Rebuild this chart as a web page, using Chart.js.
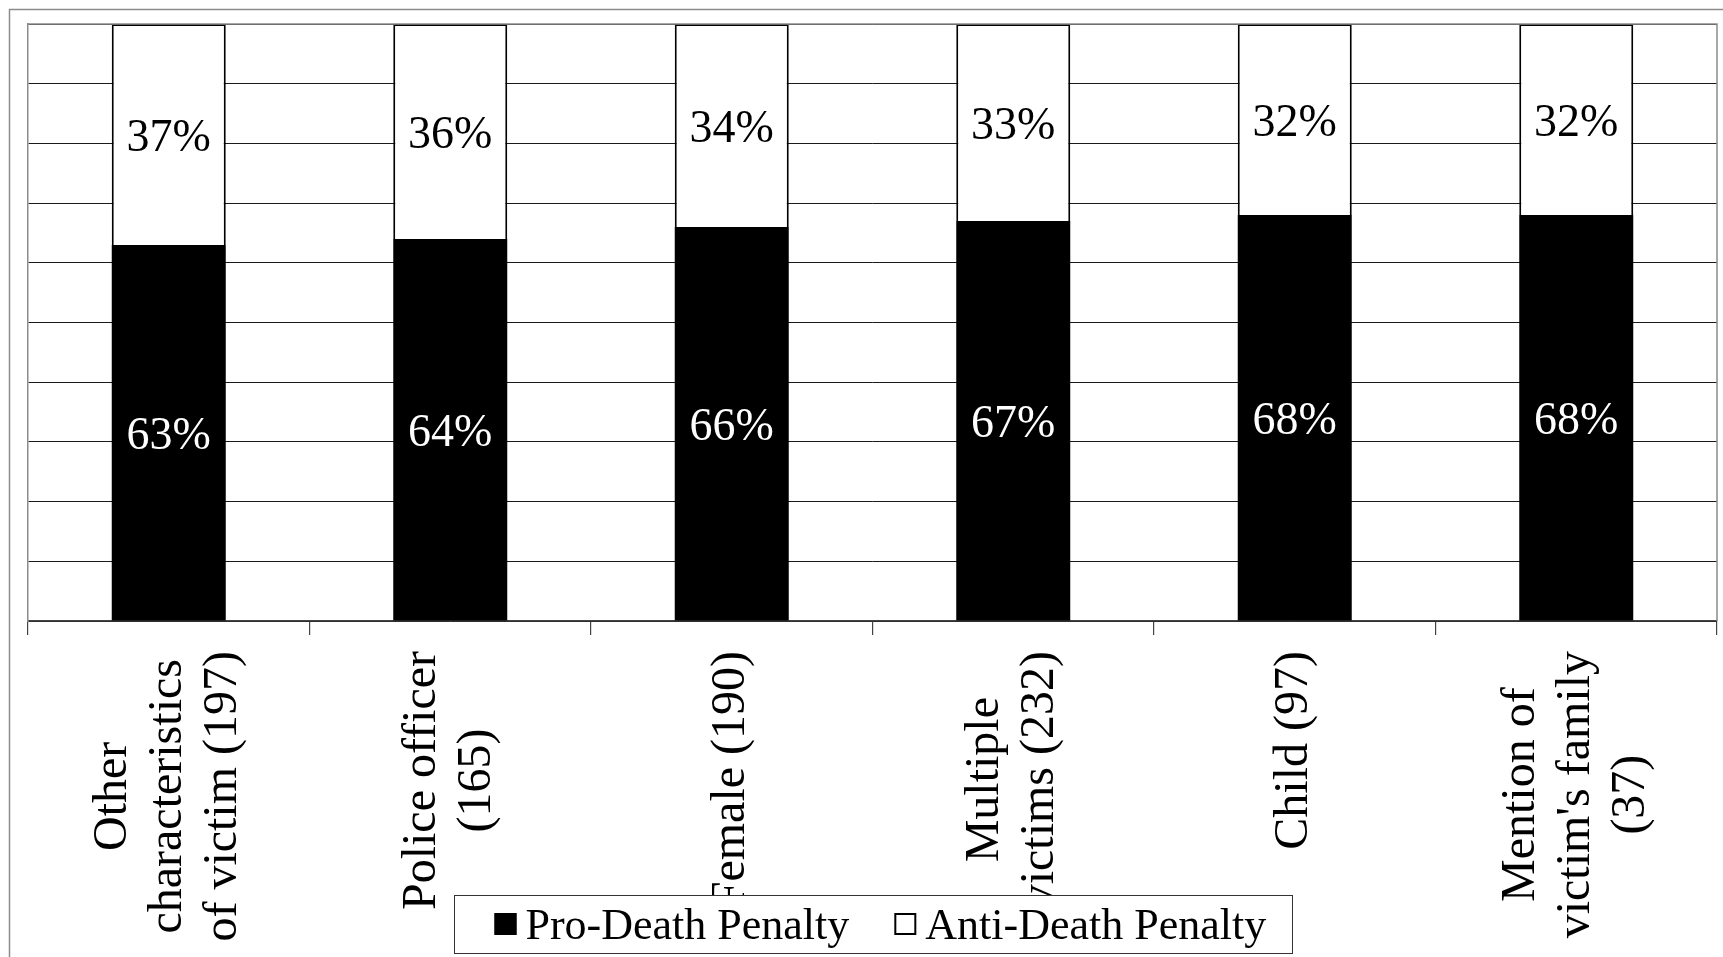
<!DOCTYPE html>
<html>
<head>
<meta charset="utf-8">
<script src="https://cdn.jsdelivr.net/npm/chart.js@4/dist/chart.umd.min.js"></script>
<style>
  html, body { margin: 0; padding: 0; background: #fff; overflow: hidden; }
  canvas { display: block; }
</style>
</head>
<body>
<canvas id="chart" width="1723" height="957"></canvas>
<script>
// Victim characteristics (number of cases in parentheses), one array per wrapped label
const categories = [
  ['Other', 'characteristics', 'of victim (197)'],
  ['Police officer', '(165)'],
  ['Female (190)'],
  ['Multiple', 'victims (232)'],
  ['Child (97)'],
  ['Mention of', "victim's family", '(37)']
];

// Share of cases (%) by stance
const proDeathPenalty  = [63, 64, 66, 67, 68, 68];
const antiDeathPenalty = [37, 36, 34, 33, 32, 32];

// Horizontal gridline steps on the 0–100% axis
const percentTicks = [0, 10, 20, 30, 40, 50, 60, 70, 80, 90, 100];

const SERIF = '"Liberation Serif", "Times New Roman", Times, serif';
const FRAME_GREY = '#8c8c8c';

// Outer frame and the top/right edges of the plot area
const framePlugin = {
  id: 'frame',
  beforeDraw(chart) {
    const { ctx, width, height } = chart;
    ctx.save();
    ctx.fillStyle = '#fff';
    ctx.fillRect(0, 0, width, height);
    ctx.strokeStyle = FRAME_GREY;
    ctx.lineWidth = 1.5;
    ctx.beginPath();
    ctx.moveTo(9.5, height);
    ctx.lineTo(9.5, 9.5);
    ctx.lineTo(width, 9.5);
    ctx.stroke();
    ctx.restore();
  },
  afterDatasetsDraw(chart) {
    const { ctx, chartArea: a } = chart;
    ctx.save();
    ctx.strokeStyle = FRAME_GREY;
    ctx.lineWidth = 1.5;
    ctx.beginPath();
    ctx.moveTo(a.left, a.top);
    ctx.lineTo(a.right, a.top);
    ctx.lineTo(a.right, a.bottom);
    ctx.stroke();
    ctx.restore();
  }
};

// Percentage printed in the middle of every bar segment
const valueLabelPlugin = {
  id: 'valueLabels',
  afterDatasetsDraw(chart) {
    const { ctx } = chart;
    ctx.save();
    ctx.font = `46px ${SERIF}`;
    ctx.textAlign = 'center';
    ctx.textBaseline = 'middle';
    chart.data.datasets.forEach((ds, di) => {
      const meta = chart.getDatasetMeta(di);
      meta.data.forEach((bar, i) => {
        const { x, y, base } = bar.getProps(['x', 'y', 'base'], true);
        ctx.fillStyle = ds.valueColor;
        ctx.fillText(ds.data[i] + '%', x, (y + base) / 2 + 4);
      });
    });
    ctx.restore();
  }
};

// Rotated, centre-aligned multi-line category labels under the axis
const categoryLabelPlugin = {
  id: 'categoryLabels',
  afterDraw(chart) {
    const { ctx, chartArea, scales: { x } } = chart;
    const lineHeight = 55;
    ctx.save();
    ctx.font = `48px ${SERIF}`;
    ctx.fillStyle = '#000';
    ctx.textAlign = 'center';
    ctx.textBaseline = 'middle';
    chart.data.labels.forEach((lines, i) => {
      const cx = x.getPixelForValue(i);
      const longest = Math.max(...lines.map(l => ctx.measureText(l).width));
      const top = chartArea.bottom + 30;
      ctx.save();
      ctx.translate(cx, top + longest / 2);
      ctx.rotate(-Math.PI / 2);
      lines.forEach((line, j) => {
        ctx.fillText(line, 0, (j - (lines.length - 1) / 2) * lineHeight);
      });
      ctx.restore();
    });
    ctx.restore();
  }
};

// Boxed legend drawn on top of the category labels
const legendBoxPlugin = {
  id: 'legendBox',
  afterDraw(chart) {
    const { ctx, chartArea } = chart;
    const boxW = 838, boxH = 58;
    const left = Math.round((chartArea.left + chartArea.right) / 2 - boxW / 2) + 0.5;
    const top = 895.5;
    ctx.save();
    ctx.fillStyle = '#fff';
    ctx.fillRect(left, top, boxW, boxH);
    ctx.strokeStyle = '#333';
    ctx.lineWidth = 1;
    ctx.strokeRect(left, top, boxW, boxH);

    ctx.font = `44px ${SERIF}`;
    ctx.textAlign = 'left';
    ctx.textBaseline = 'alphabetic';
    let xPos = left + 40;
    const sq = 22, sqTop = 913, baseline = 939;
    chart.data.datasets.forEach((ds) => {
      ctx.fillStyle = ds.backgroundColor;
      ctx.fillRect(xPos, sqTop, sq, sq);
      ctx.strokeStyle = '#000';
      ctx.lineWidth = 2;
      ctx.strokeRect(xPos + 1, sqTop + 1, sq - 2, sq - 2);
      ctx.fillStyle = '#000';
      ctx.fillText(ds.label, xPos + sq + 9, baseline);
      xPos += sq + 9 + ctx.measureText(ds.label).width + 45;
    });
    ctx.restore();
  }
};

new Chart(document.getElementById('chart'), {
  type: 'bar',
  data: {
    labels: categories,
    datasets: [
      {
        label: 'Pro-Death Penalty',
        data: proDeathPenalty,
        backgroundColor: '#000',
        borderColor: '#000',
        borderWidth: 0,
        valueColor: '#fff'
      },
      {
        label: 'Anti-Death Penalty',
        data: antiDeathPenalty,
        backgroundColor: '#fff',
        borderColor: '#000',
        borderWidth: 2,
        valueColor: '#000'
      }
    ]
  },
  options: {
    responsive: false,
    animation: false,
    devicePixelRatio: 1,
    layout: { padding: { left: 28, top: 24, right: 6, bottom: 322 } },
    datasets: { bar: { categoryPercentage: 1, barPercentage: 0.405 } },
    plugins: { legend: { display: false }, tooltip: { enabled: false } },
    scales: {
      x: {
        stacked: true,
        ticks: { display: false },
        grid: {
          display: true,
          offset: true,
          drawOnChartArea: false,
          drawTicks: true,
          tickLength: 14,
          color: '#444',
          lineWidth: 1.2
        },
        border: { display: true, color: '#444', width: 1.5 }
      },
      y: {
        stacked: true,
        min: percentTicks[0],
        max: percentTicks[percentTicks.length - 1],
        afterBuildTicks(scale) {
          scale.ticks = percentTicks.map(v => ({ value: v }));
        },
        ticks: { display: false },
        grid: {
          drawTicks: false,
          color: '#1a1a1a',
          lineWidth: 1
        },
        border: { display: true, color: FRAME_GREY, width: 1.5 }
      }
    }
  },
  plugins: [framePlugin, valueLabelPlugin, categoryLabelPlugin, legendBoxPlugin]
});
</script>
</body>
</html>
